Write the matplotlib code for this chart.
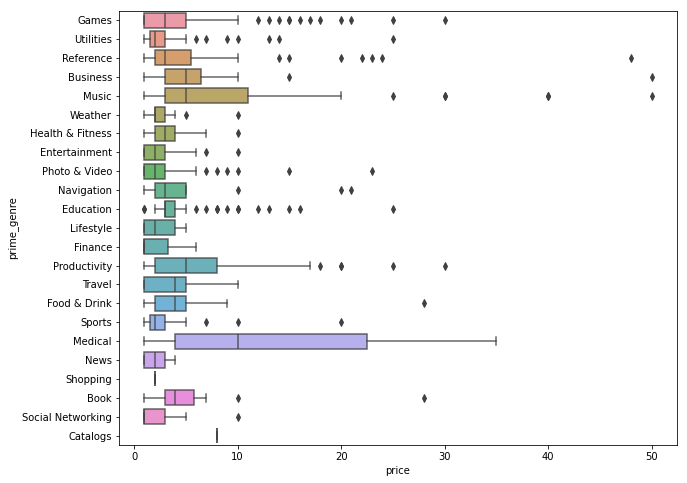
import colorsys
import matplotlib
matplotlib.use("Agg")
import matplotlib.pyplot as plt
import seaborn as sns

genres = ['Games', 'Utilities', 'Reference', 'Business', 'Music', 'Weather',
          'Health & Fitness', 'Entertainment', 'Photo & Video', 'Navigation',
          'Education', 'Lifestyle', 'Finance', 'Productivity', 'Travel',
          'Food & Drink', 'Sports', 'Medical', 'News', 'Shopping', 'Book',
          'Social Networking', 'Catalogs']

whislo = [0.99, 0.99, 0.99, 0.99, 0.99, 0.99, 0.99, 0.99, 0.99, 0.99, 1.99, 0.99,
          0.99, 0.99, 0.99, 0.99, 0.99, 0.99, 0.99, 1.99, 0.99, 0.99, 7.99]
q1 = [0.99, 1.49, 1.99, 2.99, 2.99, 1.99, 1.99, 0.99, 0.99, 1.99, 2.99, 0.99,
      0.99, 1.99, 0.99, 1.99, 1.49, 3.99, 0.99, 1.99, 2.99, 0.99, 7.99]
med = [2.99, 1.99, 2.99, 4.99, 4.99, 1.99, 2.99, 1.99, 1.99, 2.99, 2.99, 1.99,
       0.99, 4.99, 3.99, 3.99, 1.99, 9.99, 1.99, 1.99, 3.99, 0.99, 7.99]
q3 = [4.99, 2.99, 5.49, 6.49, 10.99, 2.99, 3.99, 2.99, 2.99, 4.99, 3.99, 3.99,
      3.29, 7.99, 4.99, 4.99, 2.99, 22.49, 2.99, 1.99, 5.74, 2.99, 7.99]
whishi = [9.99, 4.99, 9.99, 9.99, 19.99, 3.99, 6.99, 5.99, 5.99, 4.99, 4.99, 4.99,
          5.99, 16.99, 9.99, 8.99, 4.99, 34.99, 3.99, 1.99, 6.99, 4.99, 7.99]
outliers = [
    [11.99, 12.99, 13.99, 14.99, 14.99, 15.99, 16.99, 17.99, 19.99, 20.99, 24.99, 29.99],
    [5.99, 6.99, 8.99, 9.99, 12.99, 13.99, 24.99],
    [13.99, 14.99, 19.99, 21.99, 22.99, 23.99, 47.99],
    [14.99, 49.99],
    [24.99, 29.99, 29.99, 39.99, 39.99, 49.99],
    [4.99, 9.99],
    [9.99],
    [6.99, 9.99],
    [6.99, 7.99, 8.99, 9.99, 14.99, 22.99],
    [9.99, 19.99, 20.99],
    [0.99, 0.99, 5.99, 6.99, 7.99, 7.99, 8.99, 9.99, 9.99, 11.99, 12.99, 14.99, 15.99, 24.99],
    [],
    [],
    [17.99, 19.99, 19.99, 24.99, 29.99],
    [],
    [27.99],
    [6.99, 9.99, 19.99],
    [],
    [],
    [],
    [9.99, 27.99],
    [9.99],
    [],
]

# seaborn-like colours: husl palette, desaturated, dark gray lines
colors = sns.color_palette("husl", len(genres), desat=0.75)
lum = min(colorsys.rgb_to_hls(*c)[1] for c in colors) * 0.6
gray = (lum, lum, lum)

stats = []
for i, g in enumerate(genres):
    stats.append({'label': g, 'whislo': whislo[i], 'q1': q1[i], 'med': med[i],
                  'q3': q3[i], 'whishi': whishi[i], 'fliers': outliers[i]})

plt.rcParams['font.family'] = 'DejaVu Sans'
plt.rcParams['font.size'] = 10

fig = plt.figure(figsize=(687 / 72, 483 / 72), dpi=72)
ax = fig.add_axes([0.1732, 0.0787, 0.8123, 0.8991])

lw = 1.5
bp = ax.bxp(stats, positions=range(len(genres)), widths=0.8,
            orientation='horizontal', patch_artist=True,
            boxprops=dict(edgecolor=gray, linewidth=lw, alpha=0.8),
            medianprops=dict(color=gray, linewidth=lw, alpha=0.8),
            whiskerprops=dict(color=gray, linewidth=lw, alpha=0.8),
            capprops=dict(color=gray, linewidth=lw, alpha=0.8),
            flierprops=dict(marker='d', markersize=5, markerfacecolor=gray,
                            markeredgecolor=gray, linestyle='none'))
for patch, c in zip(bp['boxes'], colors):
    patch.set_facecolor(c)

ax.set_ylim(len(genres) - 0.5, -0.5)
ax.set_yticks(range(len(genres)))
ax.set_yticklabels(genres)
ax.set_xticks([0, 10, 20, 30, 40, 50])
ax.set_xlabel('price')
ax.set_ylabel('prime_genre')

fig.savefig('out.png', dpi=72)
